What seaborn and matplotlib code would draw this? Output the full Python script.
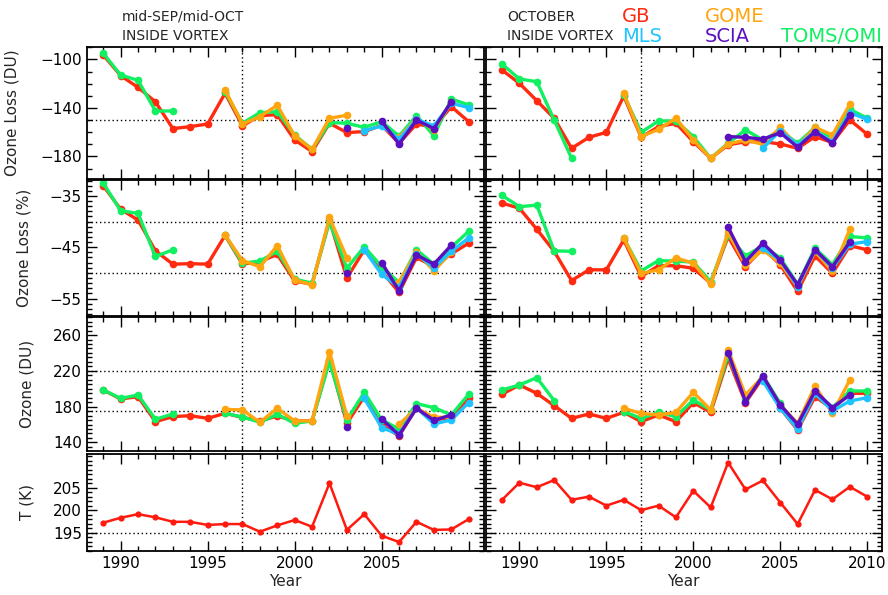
import numpy as np
import pandas as pd
import matplotlib
matplotlib.use("Agg")
import matplotlib.pyplot as plt
import seaborn as sns
from matplotlib.ticker import FixedLocator, MultipleLocator

nan = np.nan
YEARS = np.arange(1989, 2011)

SOURCES = ["GB", "TOMS/OMI", "GOME", "MLS", "SCIA"]
COLORS = {"GB": "#ff2a10", "GOME": "#ffa510", "MLS": "#1ec4ff",
          "SCIA": "#5a10c0", "TOMS/OMI": "#10f060"}

# ---- mid-SEP/mid-OCT, inside vortex ----
sep_loss_du = {
    "GB": [-96.3, -113.3, -123.0, -135.0, -157.0, -155.4, -153.2, -127.9, -154.8, -146.3, -145.5,
           -166.4, -176.0, -152.6, -160.3, -159.5, -154.3, -169.1, -153.2, -156.0, -138.9, -151.3],
    "TOMS/OMI": [-94.9, -112.8, -117.2, -142.5, -142.5, nan, nan, -126.5, -152.6, -143.9, -143.0,
                 -162.3, -174.1, -152.0, -152.6, -156.0, -151.3, -163.2, -146.3, -162.9, -132.6, -137.5],
    "GOME": [nan, nan, nan, nan, nan, nan, nan, -125.2, -153.2, -147.1, -137.8,
             -163.0, -174.1, -148.5, -146.0, nan, nan, -164.0, -149.0, -158.0, -135.0, nan],
    "MLS": [nan] * 15 + [-158.7, -154.8, -165.6, -149.4, -154.8, -136.1, -139.7],
    "SCIA": [nan] * 14 + [-156.8, nan, -151.0, -169.7, -150.0, -157.0, -134.8, nan],
}
sep_loss_pct = {
    "GB": [-33.0, -37.6, -39.7, -45.7, -48.3, -48.2, -48.3, -42.7, -48.3, -47.8, -46.4,
           -51.6, -52.2, -39.7, -51.0, -45.5, -49.7, -53.8, -47.0, -48.8, -46.3, -44.2],
    "TOMS/OMI": [-32.5, -37.9, -38.4, -46.8, -45.5, nan, nan, -42.6, -48.1, -47.7, -45.8,
                 -51.2, -52.0, -40.0, -49.1, -44.9, -48.8, -51.9, -45.5, -48.3, -45.0, -41.9],
    "GOME": [nan, nan, nan, nan, nan, nan, nan, -42.6, -47.6, -48.8, -44.7,
             -51.4, -52.3, -39.2, -47.1, nan, nan, -51.7, -46.0, -49.6, -46.0, nan],
    "MLS": [nan] * 15 + [-45.5, -50.3, -52.8, -46.3, -49.0, -45.8, -43.2],
    "SCIA": [nan] * 14 + [-50.1, nan, -48.0, -53.5, -46.5, -48.3, -44.6, nan],
}
sep_ozone = {
    "GB": [198.6, 188.6, 191.2, 163.2, 168.8, 169.9, 166.9, 172.5, 168.0, 164.0, 169.5,
           164.0, 164.0, 232.2, 161.3, 191.2, 159.5, 147.2, 178.9, 165.1, 167.7, 190.0],
    "TOMS/OMI": [198.6, 189.3, 193.0, 165.8, 171.8, nan, nan, 172.5, 168.4, 162.5, 171.4,
                 161.3, 164.0, 230.3, 165.1, 196.0, 165.1, 155.0, 183.3, 178.9, 170.7, 193.8],
    "GOME": [nan, nan, nan, nan, nan, nan, nan, 177.0, 176.3, 162.5, 178.1,
             164.0, 164.0, 241.5, 169.5, nan, nan, 160.2, 178.0, 168.1, 168.0, nan],
    "MLS": [nan] * 15 + [189.3, 156.5, 149.0, 178.9, 160.6, 165.1, 184.5],
    "SCIA": [nan] * 14 + [157.6, nan, 166.2, 148.3, 178.0, 164.7, 170.7, nan],
}
sep_temp = [197.2, 198.3, 199.1, 198.4, 197.4, 197.4, 196.7, 196.9, 196.9, 195.2, 196.6,
            197.8, 196.3, 206.0, 195.6, 199.1, 194.3, 192.9, 197.4, 195.6, 195.7, 198.0]

# ---- October, inside vortex ----
oct_loss_du = {
    "GB": [-108.7, -119.7, -134.0, -148.5, -173.3, -164.2, -160.1, -130.1, -164.2, -155.4, -152.6,
           -167.8, -181.5, -170.5, -167.8, -167.8, -169.7, -173.3, -163.6, -168.6, -149.9, -161.7],
    "TOMS/OMI": [-103.7, -116.1, -118.3, -149.9, -181.5, nan, nan, -129.3, -160.1, -150.7, -150.7,
                 -163.6, -181.5, -169.1, -158.1, -166.4, -158.7, -169.1, -156.0, -165.0, -141.1, -148.5],
    "GOME": [nan] * 7 + [-127.9, -163.6, -157.6, -148.5, -166.4, -181.5, -169.7, -166.4,
                         -170.0, -156.0, -171.4, -156.0, -162.3, -137.0, nan],
    "MLS": [nan] * 15 + [-173.3, -158.7, -170.5, -159.5, -167.8, -143.9, -149.4],
    "SCIA": [nan] * 13 + [-163.6, -164.2, -165.8, -160.4, -172.4, -159.5, -169.1, -145.8, nan],
}
oct_loss_pct = {
    "GB": [-36.4, -37.4, -41.5, -45.8, -51.5, -49.4, -49.4, -43.6, -50.7, -48.6, -48.6,
           -49.1, -52.0, -42.9, -48.8, -45.2, -48.4, -53.6, -46.7, -50.1, -44.7, -45.5],
    "TOMS/OMI": [-34.9, -37.1, -36.8, -45.7, -45.8, nan, nan, -43.2, -49.6, -47.6, -47.7,
                 -47.9, -51.7, -42.6, -46.7, -44.7, -47.1, -52.2, -45.2, -48.4, -42.9, -43.2],
    "GOME": [nan] * 7 + [-43.2, -50.1, -49.4, -47.1, -48.1, -52.2, -42.1, -48.4,
                         -45.5, -48.1, -52.7, -45.8, -49.7, -41.5, nan],
    "MLS": [nan] * 15 + [-45.2, -47.5, -52.7, -45.5, -49.1, -44.4, -43.9],
    "SCIA": [nan] * 13 + [-41.1, -47.8, -44.2, -47.5, -52.3, -45.5, -48.8, -44.0, nan],
}
oct_ozone = {
    "GB": [193.8, 204.2, 194.9, 181.1, 166.9, 171.8, 166.9, 173.6, 163.2, 170.7, 163.2,
           184.5, 173.6, 234.0, 184.5, 212.4, 178.1, 153.9, 191.2, 177.4, 194.9, 194.9],
    "TOMS/OMI": [198.6, 204.2, 212.4, 186.7, nan, nan, nan, 174.4, 166.9, 173.6, 168.8,
                 187.4, 176.3, 237.8, 188.2, 214.6, 183.7, 156.5, 195.6, 178.9, 197.5, 197.5],
    "GOME": [nan] * 7 + [178.1, 172.5, 170.7, 173.6, 196.0, 176.3, 243.3, 193.0,
                         213.5, 181.8, 161.3, 203.1, 172.5, 209.8, nan],
    "MLS": [nan] * 15 + [208.7, 178.1, 155.0, 194.9, 175.1, 186.3, 190.0],
    "SCIA": [nan] * 13 + [240.4, 185.6, 214.3, 181.8, 160.2, 197.5, 178.9, 193.0, nan],
}
oct_temp = [202.3, 206.1, 205.1, 206.7, 202.3, 203.0, 201.0, 202.3, 200.0, 201.0, 198.4,
            204.3, 200.6, 210.6, 204.6, 206.6, 201.7, 196.9, 204.5, 202.4, 205.2, 203.0]

YLABELS = ["Ozone Loss (DU)", "Ozone Loss (%)", "Ozone (DU)", "T (K)"]
YLIMS = [(-198.6, -89.7), (-58.4, -31.9), (130.4, 280.2), (190.9, 212.5)]
YMAJOR = [[-180, -140, -100], [-55, -45, -35], [140, 180, 220, 260], [195, 200, 205]]
YMINOR = [10, 1, 5, 1]
HLINES = [[-150], [-40, -50], [220, 175.5], [195]]
YLABEL_X = [19, 31, 34, 34]


def long_frame(series):
    """Reshape a dict of yearly series into a long table, splitting at gaps."""
    parts = []
    for name in SOURCES:
        v = np.asarray(series[name], dtype=float)
        ok = ~np.isnan(v)
        seg = np.cumsum(~ok)
        parts.append(pd.DataFrame({
            "Year": YEARS[ok], "value": v[ok], "source": name,
            "segment": [f"{name}-{s}" for s in seg[ok]],
        }))
    return pd.concat(parts, ignore_index=True)


sns.set_theme(style="ticks")
plt.rcParams["font.family"] = ["DejaVu Sans"]
plt.rcParams["axes.linewidth"] = 1.3

W, H = 888, 595
fig = plt.figure(figsize=(W / 100, H / 100), dpi=100)

col_x = [(86.7, 483.5), (485.5, 882.0)]
row_y = [(47, 179), (180, 316), (317, 451), (454, 551)]

panels = [
    [sep_loss_du, sep_loss_pct, sep_ozone, sep_temp],
    [oct_loss_du, oct_loss_pct, oct_ozone, oct_temp],
]

for c, (x0, x1) in enumerate(col_x):
    for r, (y0, y1) in enumerate(row_y):
        ax = fig.add_axes([x0 / W, 1 - y1 / H, (x1 - x0) / W, (y1 - y0) / H])
        data = panels[c][r]
        if r < 3:
            df = long_frame(data)
            sns.lineplot(data=df, x="Year", y="value", hue="source", units="segment",
                         estimator=None, sort=False, hue_order=SOURCES, palette=COLORS,
                         marker="o", markersize=5.5, markeredgewidth=0, linewidth=2.4,
                         legend=False, ax=ax)
        else:
            tdf = pd.DataFrame({"Year": YEARS, "value": data})
            sns.lineplot(data=tdf, x="Year", y="value", color="#ff1a10", marker="o",
                         markersize=4.5, markeredgewidth=0, linewidth=1.8, ax=ax)

        ax.set_xlim(1988.05, 2010.85)
        ax.set_ylim(*YLIMS[r])
        ax.xaxis.set_major_locator(FixedLocator([1990, 1995, 2000, 2005, 2010]))
        ax.xaxis.set_minor_locator(MultipleLocator(1))
        ax.yaxis.set_major_locator(FixedLocator(YMAJOR[r]))
        ax.yaxis.set_minor_locator(MultipleLocator(YMINOR[r]))
        ax.tick_params(which="both", direction="in", top=True, right=True,
                       colors="black", labelsize=11, width=1)
        ax.tick_params(which="major", length=7)
        ax.tick_params(which="minor", length=3.5)

        ax.axvline(1997, color="black", linestyle=(0, (1, 2)), linewidth=1, zorder=0)
        for h in HLINES[r]:
            ax.axhline(h, color="black", linestyle=(0, (1, 2)), linewidth=1, zorder=0)

        for s in ax.spines.values():
            s.set_color("black")
            s.set_linewidth(1.3)

        if c == 0:
            ax.set_ylabel(YLABELS[r], fontsize=11)
            ax.yaxis.set_label_coords((YLABEL_X[r] - x0) / (x1 - x0), 0.5)
        else:
            ax.set_ylabel("")
            ax.tick_params(labelleft=False)

        if r == 3:
            ax.set_xlabel("Year", fontsize=11, labelpad=2)
            labels = ["1990", "1995", "2000", "2005", "2010" if c == 1 else ""]
            ax.set_xticklabels(labels)
        else:
            ax.set_xlabel("")
            ax.tick_params(labelbottom=False)

# Period headers
for x, lines in [(122, ["mid-SEP/mid-OCT", "INSIDE VORTEX"]),
                 (507, ["OCTOBER", "INSIDE VORTEX"])]:
    for i, t in enumerate(lines):
        fig.text(x / W, 1 - (17 + 19 * i) / H, t, fontsize=10, va="center", ha="left")

# Colour key
key = [("GB", 622, 17), ("GOME", 705, 17), ("MLS", 622, 36),
       ("SCIA", 705, 36), ("TOMS/OMI", 781, 36)]
for name, x, y in key:
    fig.text(x / W, 1 - y / H, name, color=COLORS[name], fontsize=14,
             va="center", ha="left")

fig.savefig("out.png", dpi=100)
